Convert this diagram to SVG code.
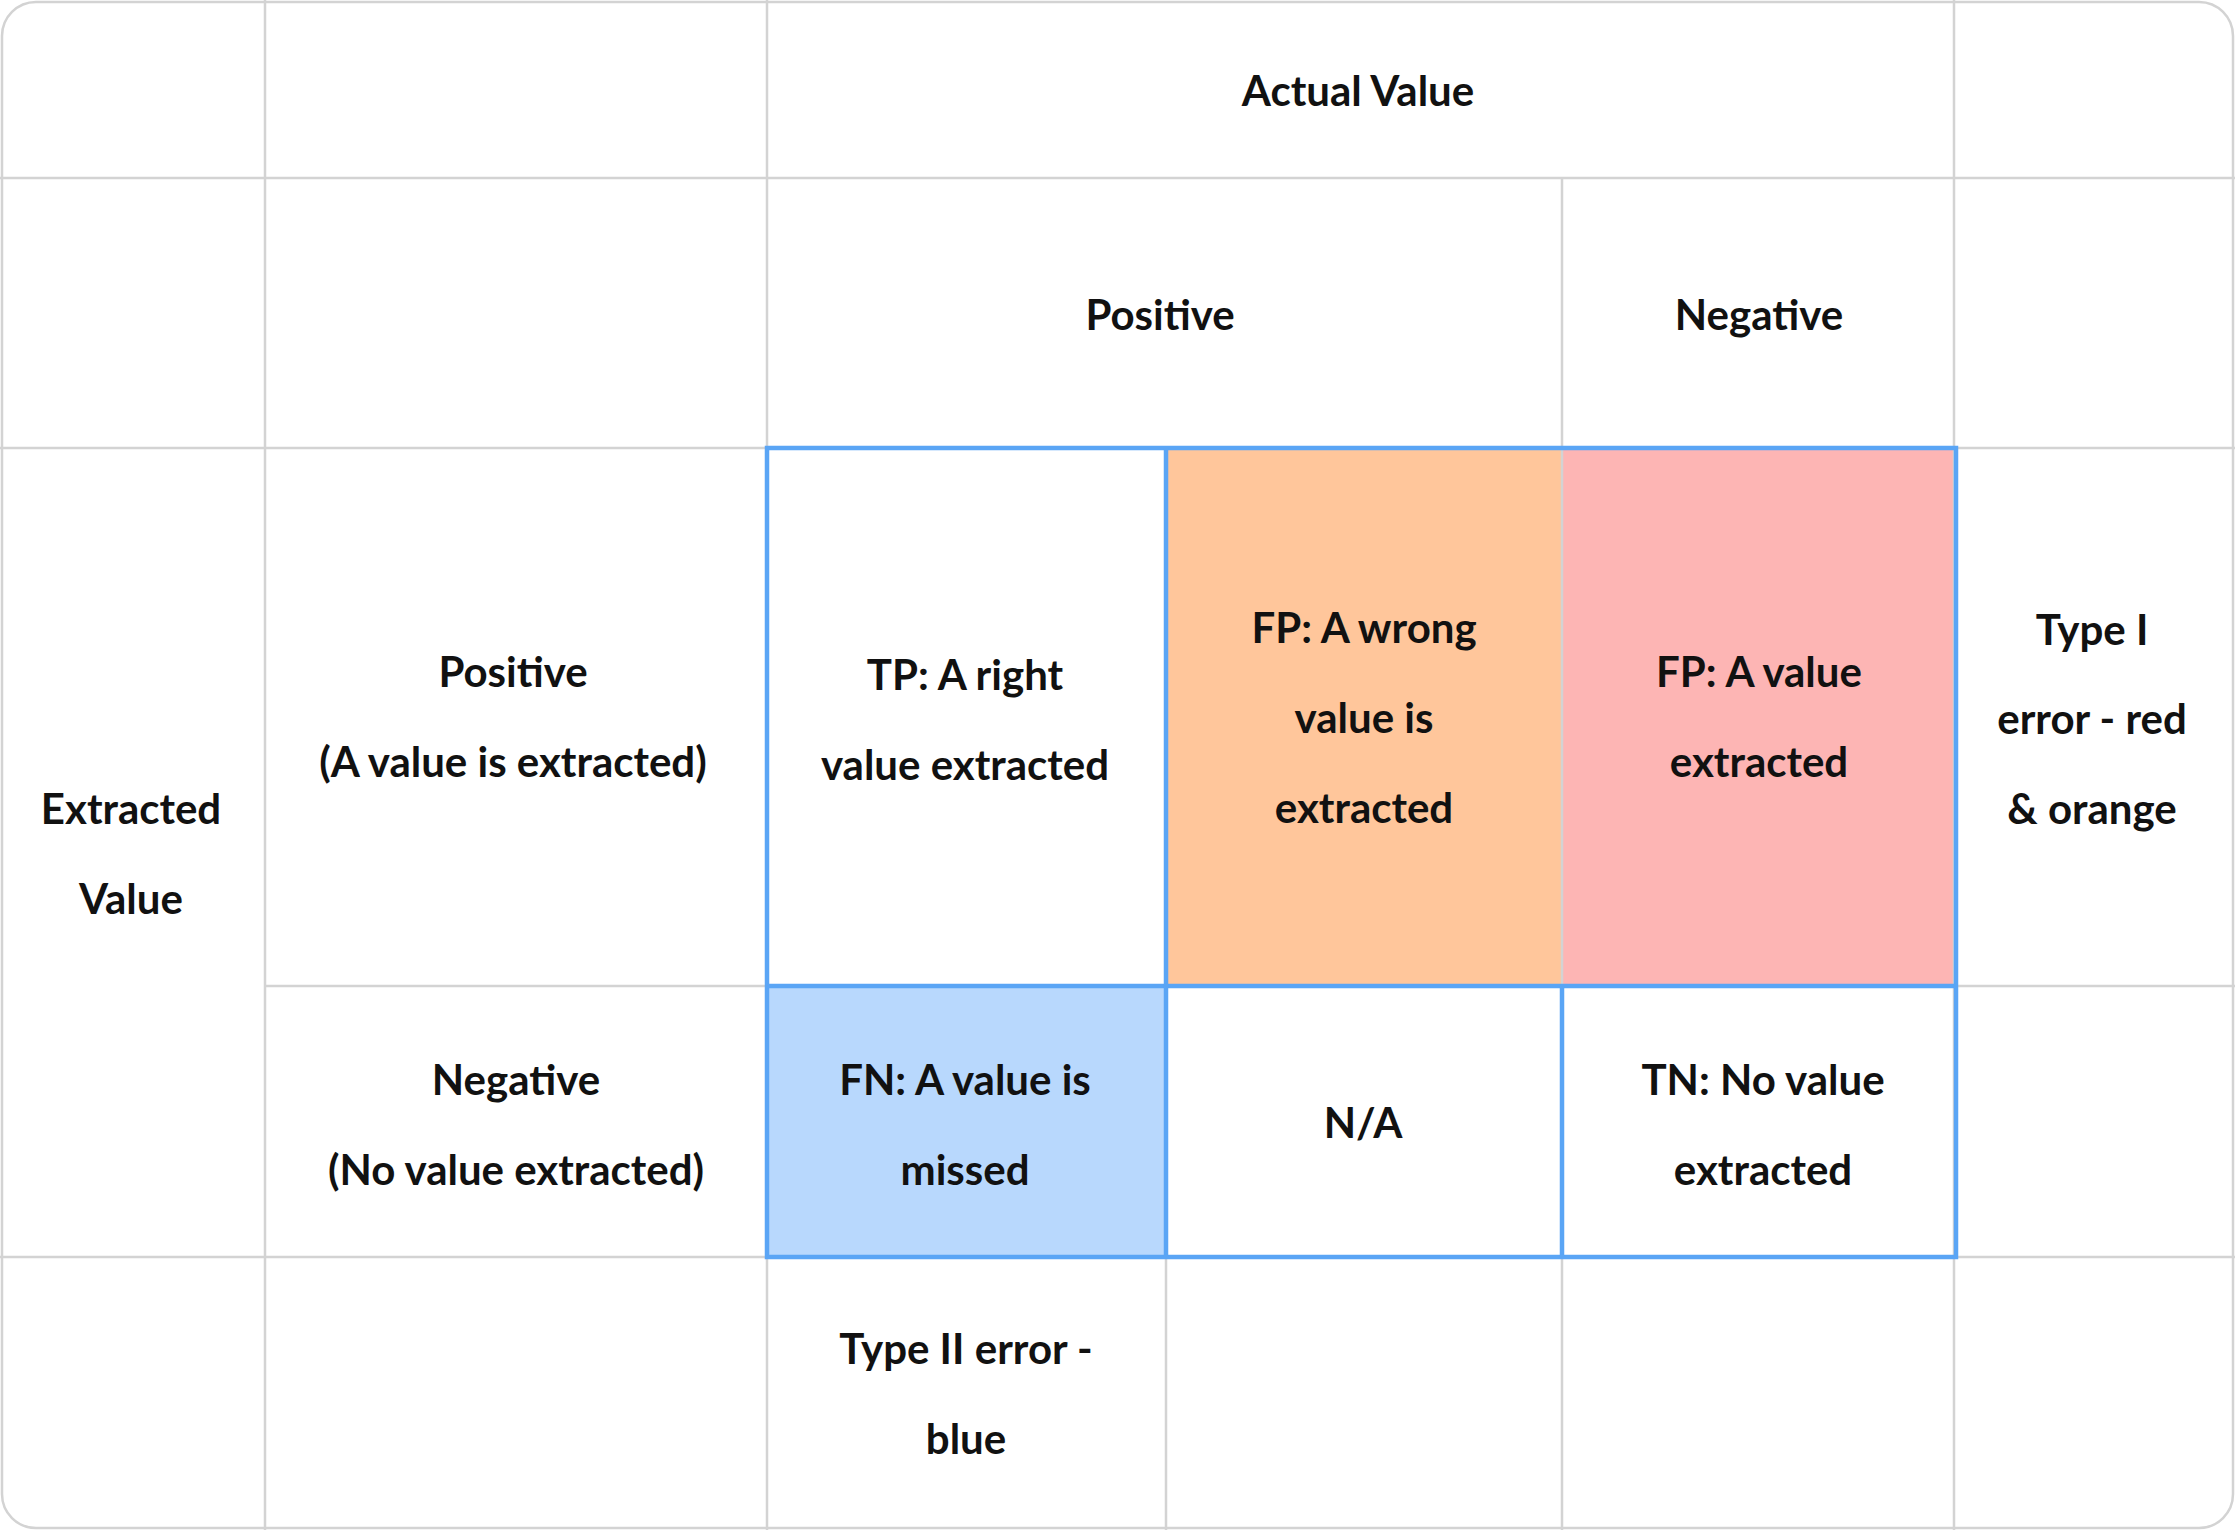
<svg xmlns="http://www.w3.org/2000/svg" width="2235" height="1530" viewBox="0 0 2235 1530">
<style>
.g{stroke:#d3d3d3;stroke-width:2.5;fill:none}
.b{stroke:#5aa5f5;stroke-width:4.5;fill:none}
text{font-family:Lato,"Liberation Sans",sans-serif;font-weight:700;font-size:42px;fill:#111;text-anchor:middle;dominant-baseline:central}
</style>
<rect x="0" y="0" width="2235" height="1530" fill="#fff"/>
<g id="fills">
<rect x="1166" y="448" width="396" height="538" fill="#ffc69b"/>
<rect x="1562" y="448" width="394" height="538" fill="#fdb5b4"/>
<rect x="767" y="986" width="399" height="271" fill="#b8d8fd"/>
</g>
<g id="connectors">
<rect class="g" x="2" y="2" width="2231" height="1526" rx="34"/>
<line class="g" x1="0" y1="178" x2="2235" y2="178"/>
<line class="g" x1="0" y1="448" x2="2235" y2="448"/>
<line class="g" x1="265" y1="986" x2="2235" y2="986"/>
<line class="g" x1="0" y1="1257" x2="2235" y2="1257"/>
<line class="g" x1="265" y1="0" x2="265" y2="1530"/>
<line class="g" x1="767" y1="0" x2="767" y2="1530"/>
<line class="g" x1="1166" y1="448" x2="1166" y2="1530"/>
<line class="g" x1="1562" y1="178" x2="1562" y2="1530"/>
<line class="g" x1="1954" y1="0" x2="1954" y2="1530"/>
<rect class="b" x="767" y="448" width="1189" height="809"/>
<line class="b" x1="767" y1="986" x2="1956" y2="986"/>
<line class="b" x1="1166" y1="448" x2="1166" y2="1257"/>
<line class="b" x1="1562" y1="986" x2="1562" y2="1257"/>
</g>
<g id="n-actual"><text x="1358" y="90">Actual Value</text></g>
<g id="n-pos-h"><text x="1160" y="314">Positive</text></g>
<g id="n-neg-h"><text x="1759" y="314">Negative</text></g>
<g id="n-extracted"><text x="131" y="808">Extracted</text><text x="131" y="898">Value</text></g>
<g id="n-pos-r"><text x="513" y="671">Positive</text><text x="513" y="761">(A value is extracted)</text></g>
<g id="n-neg-r"><text x="516" y="1079">Negative</text><text x="516" y="1169">(No value extracted)</text></g>
<g id="n-tp"><text x="965" y="674">TP: A right</text><text x="965" y="764">value extracted</text></g>
<g id="n-fp1"><text x="1364" y="627">FP: A wrong</text><text x="1364" y="717">value is</text><text x="1364" y="807">extracted</text></g>
<g id="n-fp2"><text x="1759" y="671">FP: A value</text><text x="1759" y="761">extracted</text></g>
<g id="n-type1"><text x="2092" y="629">Type I</text><text x="2092" y="718">error - red</text><text x="2092" y="808">&amp; orange</text></g>
<g id="n-fn"><text x="965" y="1079">FN: A value is</text><text x="965" y="1169">missed</text></g>
<g id="n-na"><text x="1363" y="1122">N/A</text></g>
<g id="n-tn"><text x="1763" y="1079">TN: No value</text><text x="1763" y="1169">extracted</text></g>
<g id="n-type2"><text x="966" y="1348">Type II error -</text><text x="966" y="1438">blue</text></g>
</svg>
